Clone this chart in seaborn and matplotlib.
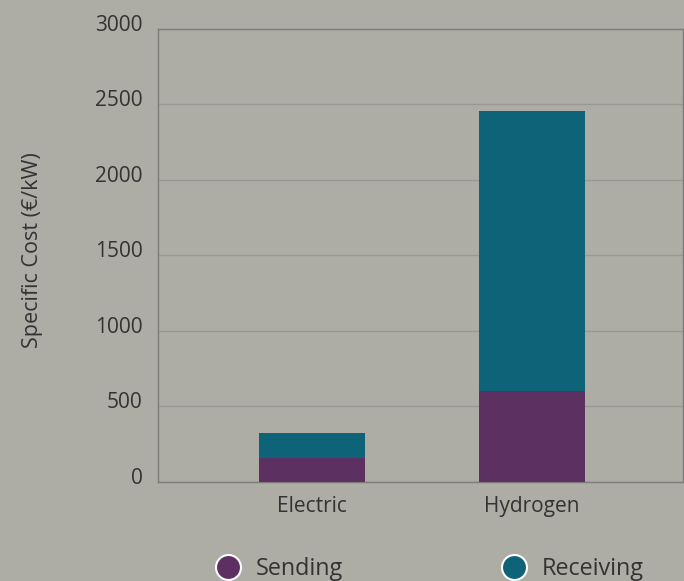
import matplotlib
matplotlib.use("Agg")
import matplotlib.pyplot as plt
import matplotlib.transforms as mtransforms
import seaborn as sns
import pandas as pd
from matplotlib.lines import Line2D

categories = ["Electric", "Hydrogen"]
sending = [160, 600]
receiving = [165, 1860]
yticks = [0, 500, 1000, 1500, 2000, 2500, 3000]

BG = "#adaca5"
PURPLE = "#5c3162"
TEAL = "#0f6378"
TXT = "#333333"

sns.set_theme(style="white")
plt.rcParams['font.family'] = ['Open Sans', 'DejaVu Sans']

df = pd.DataFrame({"category": categories, "Sending": sending,
                   "Total": [s + r for s, r in zip(sending, receiving)]})

fig = plt.figure(figsize=(6.84, 5.81), dpi=100, facecolor=BG)
ax = fig.add_axes([0.2305, 0.1704, 0.768, 0.7797])
ax.set_facecolor(BG)

sns.barplot(data=df, x="category", y="Total", color=TEAL, width=0.48,
            saturation=1, ax=ax, zorder=3, linewidth=0)
sns.barplot(data=df, x="category", y="Sending", color=PURPLE, width=0.48,
            saturation=1, ax=ax, zorder=4, linewidth=0)

ax.set_xlim(-0.7, 1.686)
ax.set_ylim(0, 3000)
ax.set_yticks(yticks)
ax.set_yticklabels([str(v) for v in yticks])
ax.yaxis.grid(True, color="#999893", linewidth=1, zorder=0)
ax.set_axisbelow(True)
for s in ax.spines.values():
    s.set_color("#7d7c78")
    s.set_linewidth(1)
    s.set_visible(True)
ax.tick_params(axis="y", length=0, pad=11, labelsize=15, labelcolor=TXT)
ax.tick_params(axis="x", length=0, pad=10, labelsize=15, labelcolor=TXT)
offset = mtransforms.ScaledTranslation(0, 6 / 100, fig.dpi_scale_trans)
for lab in ax.get_yticklabels():
    lab.set_transform(lab.get_transform() + offset)
ax.set_xlabel("")
ax.set_ylabel("Specific Cost (€/kW)", fontsize=15.5, color=TXT)
ax.yaxis.set_label_coords(-0.219, 0.512)

handles = [Line2D([], [], marker="o", linestyle="", markersize=18,
                  markerfacecolor=c, markeredgecolor="white", markeredgewidth=1.5)
           for c in (PURPLE, TEAL)]
leg = fig.legend(handles, ["Sending", "Receiving"], loc="center",
                 bbox_to_anchor=(0.620, 0.021), ncol=2, frameon=False,
                 fontsize=16.8, columnspacing=6.33, handletextpad=0.2,
                 labelcolor=TXT)

fig.savefig("out.png", dpi=100, facecolor=BG)
